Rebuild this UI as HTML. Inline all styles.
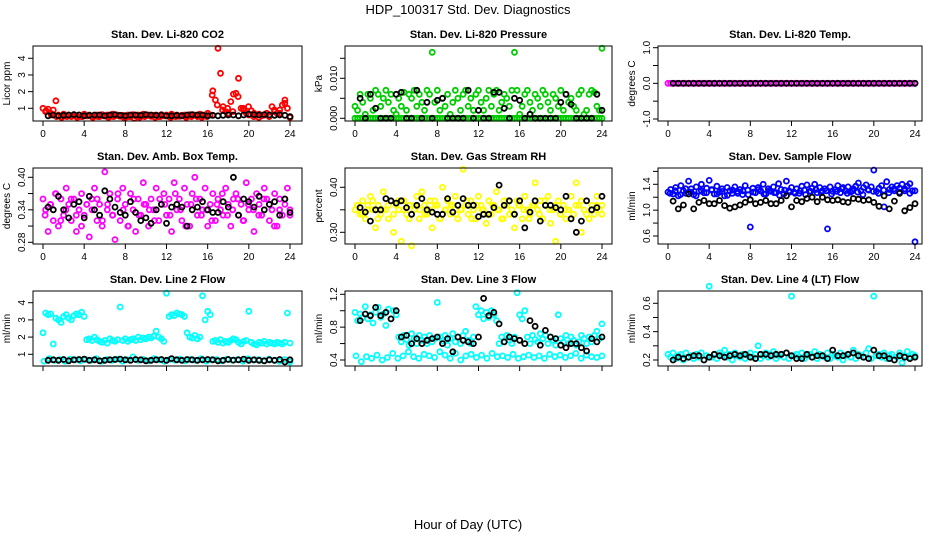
<!DOCTYPE html>
<html><head><meta charset="utf-8"><style>
html,body{margin:0;padding:0;background:#fff}
svg{display:block;font-family:"Liberation Sans",Arial,sans-serif}
</style></head><body>
<svg id="chart" width="936" height="540" viewBox="0 0 936 540" xmlns="http://www.w3.org/2000/svg">
<rect width="936" height="540" fill="#fff"/>
<text x="468" y="14" font-size="13" text-anchor="middle">HDP_100317  Std. Dev. Diagnostics</text>
<text x="468" y="529" font-size="13" text-anchor="middle">Hour of Day (UTC)</text>
</svg>
<script>
// ---- data arrays ----
const co2Red = [1.0,0.8,0.95,0.7,0.9,1.45,0.6,0.5,0.65,0.55,0.6,0.5,0.62,0.55,0.6,0.5,0.65,0.55,0.6,0.52,0.58,0.6,0.5,0.62,0.55,0.6,0.5,0.65,0.55,0.6,0.52,0.58,0.45,0.6,0.5,0.62,0.55,0.6,0.5,0.65,0.55,0.6,0.52,0.58,0.6,0.5,0.62,0.55,0.6,0.5,0.65,0.55,0.6,0.52,0.58,0.6,0.5,0.62,0.55,0.6,0.5,0.65,0.55,0.6,0.7,0.6,2.05,1.5,4.6,3.1,1.1,0.8,0.7,1.4,1.85,1.9,2.8,1.0,0.9,0.7,0.6,0.85,0.7,0.6,0.65,0.55,0.6,0.7,0.6,1.1,0.8,0.7,0.9,1.2,1.5,1.0,0.45];
const co2Red2 = [0.85,0.6,0.5,0.45,0.5,0.55,0.45,0.5,0.55,0.45,0.5,0.55,0.45,0.5,0.55,0.45,0.5,0.4,0.45,0.5,0.55,0.45,0.5,0.55,0.45,0.5,0.55,0.45,0.5,0.55,0.45,0.5,1.8,1.2,0.9,1.0,0.8,1.7,1.0,1.1,0.5,0.45,0.6,0.5,0.9,0.7,1.3,0.5];
const co2Black = [0.55,0.6,0.55,0.58,0.6,0.62,0.6,0.55,0.58,0.6,0.6,0.55,0.6,0.62,0.58,0.55,0.6,0.6,0.58,0.62,0.6,0.58,0.6,0.55,0.55,0.58,0.55,0.6,0.62,0.6,0.6,0.55,0.58,0.55,0.58,0.6,0.6,0.55,0.6,0.65,0.62,0.6,0.62,0.6,0.58,0.6,0.58,0.5];
const presGreen = [0.003,0.002,0.006,0.004,0.001,0.006,0.005,0.002,0.007,0.006,0.003,0.005,0.007,0.004,0.006,0.002,0.001,0.005,0.003,0.0065,0.002,0.006,0.005,0.007,0.003,0.006,0.004,0.002,0.007,0.006,0.0165,0.004,0.007,0.002,0.005,0.003,0.006,0.001,0.004,0.007,0.005,0.002,0.006,0.007,0.003,0.005,0.002,0.006,0.007,0.004,0.002,0.005,0.007,0.003,0.006,0.007,0.002,0.004,0.006,0.005,0.003,0.007,0.0165,0.007,0.001,0.003,0.006,0.007,0.004,0.002,0.006,0.005,0.003,0.007,0.006,0.004,0.002,0.006,0.005,0.003,0.007,0.002,0.006,0.004,0.005,0.003,0.002,0.006,0.007,0.001,0.002,0.006,0.007,0.0065,0.003,0.002,0.0175];
const presGreen2 = [0,0,0,0,0,0,0,0,0,0,0,0,0,0,0,0,0,0,0,0,0,0,0,0,0,0,0,0,0,0,0,0,0,0,0,0,0,0,0,0,0,0,0,0,0,0,0,0,0,0,0,0,0,0,0,0,0,0,0,0,0,0,0,0,0,0,0,0,0,0,0,0,0,0,0,0,0,0,0,0,0,0,0,0,0,0,0,0,0,0,0,0,0,0,0,0,0];
const presBlack = [0.005,0,0.006,0.0025,0,0,0,0.006,0.0065,0,0,0.007,0,0.004,0,0.0045,0.005,0,0,0,0,0.007,0,0.002,0,0,0.0065,0.0065,0.0025,0,0.005,0.0045,0,0.001,0,0,0,0,0,0.004,0.006,0.0035,0,0,0,0,0.006,0.002];
const tempPink = [0,0,0,0,0,0,0,0,0,0,0,0,0,0,0,0,0,0,0,0,0,0,0,0,0,0,0,0,0,0,0,0,0,0,0,0,0,0,0,0,0,0,0,0,0,0,0,0,0,0,0,0,0,0,0,0,0,0,0,0,0,0,0,0,0,0,0,0,0,0,0,0,0,0,0,0,0,0,0,0,0,0,0,0,0,0,0,0,0,0,0,0,0,0,0,0,0];
const tempBlack = [0,0,0,0,0,0,0,0,0,0,0,0,0,0,0,0,0,0,0,0,0,0,0,0,0,0,0,0,0,0,0,0,0,0,0,0,0,0,0,0,0,0,0,0,0,0,0,0];
const ambPink = [0.36,0.34,0.30,0.35,0.32,0.37,0.31,0.36,0.33,0.38,0.35,0.32,0.36,0.30,0.34,0.37,0.33,0.35,0.29,0.36,0.38,0.32,0.35,0.31,0.41,0.34,0.37,0.33,0.285,0.36,0.32,0.38,0.35,0.31,0.37,0.34,0.30,0.36,0.33,0.39,0.35,0.31,0.36,0.34,0.38,0.32,0.35,0.37,0.33,0.36,0.30,0.39,0.34,0.36,0.32,0.38,0.35,0.31,0.37,0.40,0.33,0.36,0.34,0.38,0.31,0.35,0.37,0.32,0.36,0.34,0.33,0.38,0.35,0.31,0.36,0.37,0.33,0.35,0.32,0.39,0.34,0.36,0.30,0.37,0.35,0.33,0.38,0.36,0.32,0.34,0.37,0.31,0.36,0.33,0.35,0.38,0.34];
const ambPink2 = [0.33,0.35,0.37,0.32,0.34,0.36,0.33,0.31,0.35,0.34,0.36,0.32,0.35,0.33,0.37,0.34,0.31,0.36,0.33,0.35,0.34,0.32,0.36,0.35,0.33,0.37,0.34,0.31,0.35,0.36,0.33,0.34,0.32,0.35,0.37,0.33,0.34,0.36,0.32,0.35,0.34,0.33,0.36,0.35,0.31,0.34,0.36,0.33];
const ambBlack = [0.345,0.34,0.365,0.34,0.325,0.35,0.355,0.325,0.365,0.34,0.33,0.375,0.36,0.345,0.335,0.33,0.355,0.335,0.32,0.325,0.315,0.34,0.35,0.315,0.345,0.35,0.345,0.31,0.34,0.345,0.355,0.34,0.335,0.335,0.355,0.345,0.40,0.33,0.36,0.355,0.345,0.365,0.34,0.35,0.355,0.33,0.36,0.335];
const rhYellow = [0.35,0.36,0.34,0.37,0.33,0.36,0.38,0.35,0.31,0.36,0.34,0.39,0.35,0.33,0.37,0.30,0.36,0.35,0.28,0.37,0.34,0.36,0.27,0.35,0.38,0.33,0.39,0.36,0.34,0.35,0.31,0.37,0.36,0.33,0.40,0.35,0.37,0.34,0.36,0.38,0.33,0.35,0.44,0.36,0.34,0.37,0.35,0.33,0.38,0.36,0.35,0.32,0.37,0.34,0.36,0.39,0.35,0.33,0.37,0.36,0.34,0.35,0.31,0.37,0.36,0.33,0.38,0.35,0.34,0.36,0.41,0.35,0.37,0.33,0.36,0.38,0.32,0.35,0.28,0.37,0.34,0.36,0.33,0.35,0.38,0.34,0.41,0.36,0.30,0.35,0.37,0.33,0.36,0.34,0.38,0.35,0.36];
const rhYellow2 = [0.36,0.34,0.35,0.37,0.33,0.35,0.36,0.34,0.37,0.35,0.33,0.36,0.35,0.34,0.37,0.36,0.33,0.35,0.36,0.34,0.35,0.37,0.33,0.36,0.35,0.34,0.36,0.35,0.33,0.37,0.34,0.36,0.35,0.33,0.36,0.34,0.37,0.35,0.36,0.34,0.35,0.33,0.36,0.37,0.34,0.35,0.36,0.34];
const rhBlack = [0.355,0.345,0.325,0.35,0.35,0.375,0.37,0.365,0.37,0.355,0.34,0.36,0.375,0.35,0.345,0.34,0.34,0.375,0.345,0.36,0.375,0.36,0.36,0.335,0.34,0.34,0.355,0.405,0.36,0.37,0.34,0.37,0.31,0.345,0.37,0.325,0.36,0.36,0.355,0.35,0.38,0.33,0.30,0.325,0.37,0.35,0.355,0.38];
const flowBlue = [1.28,1.32,1.25,1.35,1.22,1.38,1.30,1.26,1.45,1.33,1.24,1.36,1.29,1.40,1.27,1.34,1.46,1.31,1.25,1.37,1.28,1.33,1.22,1.35,1.30,1.26,1.36,1.29,1.32,1.24,1.38,1.31,0.74,1.34,1.27,1.35,1.30,1.40,1.25,1.33,1.29,1.36,1.27,1.41,1.32,1.25,1.45,1.30,1.35,1.28,1.33,1.26,1.37,1.31,1.39,1.29,1.34,1.40,1.27,1.35,1.30,1.33,0.71,1.36,1.29,1.32,1.38,1.27,1.35,1.30,1.36,1.28,1.33,1.37,1.42,1.30,1.35,1.39,1.31,1.36,1.62,1.29,1.34,1.38,1.05,1.44,1.32,1.36,1.30,1.38,1.34,1.40,1.33,1.37,1.41,1.30,0.51];
const flowBlue2 = [1.26,1.3,1.24,1.33,1.28,1.22,1.3,1.27,1.32,1.25,1.29,1.23,1.31,1.26,1.3,1.24,1.28,1.32,1.25,1.3,1.27,1.23,1.31,1.28,1.26,1.3,1.24,1.29,1.32,1.27,1.3,1.25,1.29,1.33,1.26,1.3,1.28,1.24,1.32,1.29,1.26,1.31,1.27,1.33,1.28,1.3,1.26,1.3];
const flowBlack = [1.14,1.02,1.08,1.25,1.02,1.12,1.15,1.1,1.1,1.15,1.07,1.03,1.05,1.08,1.12,1.16,1.1,1.12,1.15,1.1,1.1,1.15,1.22,1.05,1.15,1.13,1.18,1.2,1.13,1.2,1.16,1.15,1.16,1.13,1.12,1.18,1.17,1.15,1.16,1.12,1.06,1.22,1.02,1.14,1.26,0.99,1.04,1.1];
const l2Cyan = [2.25,3.4,3.3,3.35,1.6,3.1,3.0,2.85,3.2,3.3,3.1,3.0,3.25,3.35,3.3,3.45,3.2,1.85,1.9,1.8,2.0,1.85,1.75,1.7,1.8,1.65,1.9,1.8,1.75,1.85,3.75,1.8,1.9,1.75,1.85,1.9,1.8,2.0,1.85,1.95,1.9,2.0,1.95,2.05,2.35,2.0,1.9,1.75,4.55,3.2,3.3,3.25,3.4,3.35,3.3,3.2,2.25,2.0,1.95,2.1,1.9,2.0,4.4,3.0,3.5,3.3,1.75,1.8,1.7,1.85,1.65,1.75,1.7,1.8,1.9,1.85,1.7,1.6,1.75,1.8,3.5,1.7,1.6,1.55,1.7,1.65,1.75,1.6,1.7,1.65,1.6,1.7,1.65,1.6,1.7,3.4,1.65];
const l2Cyan2 = [0.6,0.75,0.65,0.7,0.6,0.72,0.68,0.62,0.7,0.65,0.75,0.6,0.7,0.65,0.72,0.6,0.68,0.85,0.65,0.7,0.62,0.75,0.68,0.6,0.7,0.66,0.72,0.62,0.7,0.65,0.75,0.6,0.68,0.7,0.62,0.72,0.65,0.7,0.6,0.74,0.66,0.7,0.62,0.72,0.65,0.6,0.7,0.55];
const l2Black = [0.65,0.68,0.65,0.7,0.62,0.68,0.7,0.72,0.65,0.68,0.62,0.65,0.68,0.7,0.72,0.68,0.65,0.7,0.68,0.62,0.65,0.68,0.7,0.65,0.75,0.68,0.65,0.7,0.68,0.65,0.68,0.7,0.68,0.62,0.65,0.7,0.66,0.68,0.72,0.65,0.68,0.65,0.62,0.68,0.65,0.7,0.55,0.68];
const l3CyanUp = [0.98,0.88,0.96,0.92,1.05,0.9,0.95,0.85,0.98,1.04,0.92,0.96,0.82,1.02,0.9,1.0,0.95,0.68,0.62,0.7,0.65,0.58,0.72,0.66,0.6,0.7,0.64,0.68,0.6,0.7,0.62,0.66,1.1,0.68,0.63,0.7,0.58,0.66,0.72,0.62,0.68,0.6,0.7,0.75,0.64,0.6,0.68,1.05,0.95,1.0,0.9,0.98,0.92,1.0,0.95,0.88,0.6,0.68,0.62,0.7,0.64,0.6,0.68,1.22,0.95,0.9,1.0,0.68,0.6,0.7,0.65,0.62,0.72,0.66,0.7,0.6,0.68,0.64,0.58,0.95,0.66,0.62,0.7,0.6,0.68,0.64,0.58,0.62,0.7,0.66,0.6,0.68,0.62,0.7,0.75,0.66,0.84];
const l3CyanLo = [0.45,0.38,0.44,0.42,0.46,0.4,0.43,0.48,0.42,0.45,0.5,0.44,0.42,0.47,0.45,0.43,0.5,0.46,0.42,0.48,0.4,0.45,0.47,0.43,0.46,0.42,0.48,0.44,0.45,0.43,0.47,0.42,0.44,0.46,0.43,0.45,0.42,0.47,0.44,0.46,0.43,0.45,0.48,0.42,0.46,0.44,0.43,0.45];
const l3Black = [0.88,0.96,0.94,1.04,0.94,0.98,0.9,1.0,0.68,0.7,0.6,0.66,0.6,0.64,0.66,0.68,0.6,0.66,0.5,0.68,0.64,0.62,0.6,0.68,1.15,0.94,0.98,0.84,0.62,0.68,0.66,0.64,0.6,0.88,0.81,0.58,0.76,0.68,0.66,0.58,0.55,0.6,0.6,0.55,0.51,0.66,0.62,0.68];
const l4Cyan = [0.24,0.22,0.25,0.21,0.23,0.24,0.2,0.25,0.22,0.23,0.21,0.24,0.22,0.25,0.2,0.23,0.72,0.22,0.24,0.21,0.25,0.23,0.27,0.22,0.24,0.2,0.25,0.23,0.22,0.24,0.21,0.23,0.25,0.22,0.24,0.3,0.21,0.23,0.25,0.22,0.24,0.26,0.21,0.23,0.24,0.22,0.25,0.21,0.65,0.23,0.24,0.22,0.25,0.21,0.23,0.24,0.22,0.26,0.21,0.24,0.23,0.22,0.25,0.21,0.24,0.23,0.22,0.25,0.2,0.23,0.24,0.22,0.27,0.21,0.24,0.23,0.22,0.25,0.28,0.21,0.65,0.23,0.24,0.22,0.25,0.21,0.23,0.24,0.2,0.22,0.25,0.18,0.23,0.26,0.22,0.24,0.23];
const l4Black = [0.2,0.22,0.21,0.22,0.23,0.23,0.2,0.22,0.24,0.23,0.22,0.23,0.24,0.23,0.24,0.22,0.21,0.24,0.24,0.23,0.24,0.24,0.25,0.23,0.21,0.21,0.24,0.22,0.23,0.23,0.21,0.27,0.23,0.23,0.24,0.25,0.23,0.22,0.21,0.27,0.23,0.23,0.21,0.2,0.23,0.22,0.21,0.22];
const xTicks = [0,4,8,12,16,20,24];

const panels = [
 {name:'co2',title:'Stan. Dev. Li-820 CO2',ylab:'Licor ppm',col:0,row:0,y1:4,p1:58.3,y2:1,p2:108.3,ticks:[1,2,3,4],labels:['1','2','3','4'],
  series:[[co2Red,'#ff0000',0],[co2Red2,'#ff0000',0.3],[co2Black,'#000',0.5]]},
 {name:'pressure',title:'Stan. Dev. Li-820 Pressure',ylab:'kPa',col:1,row:0,y1:0.01,p1:78.3,y2:0,p2:118.3,ticks:[0,0.005,0.01,0.015],labels:['0.000','','0.010',''],
  series:[[presGreen2,'#00cd00',0],[presGreen,'#00cd00',0],[presBlack,'#000',0.5]]},
 {name:'licor-temp',title:'Stan. Dev. Li-820 Temp.',ylab:'degrees C',col:2,row:0,y1:1,p1:47.7,y2:-1,p2:119,ticks:[-1,-0.5,0,0.5,1],labels:['-1.0','','0.0','','1.0'],
  series:[[tempPink,'#ff00ff',0],[tempBlack,'#000',0.5]]},
 {name:'amb-box-temp',title:'Stan. Dev. Amb. Box Temp.',ylab:'degrees C',col:0,row:1,y1:0.40,p1:177.3,y2:0.28,p2:242.3,ticks:[0.28,0.31,0.34,0.37,0.40],labels:['0.28','','0.34','','0.40'],
  series:[[ambPink,'#ff00ff',0],[ambPink2,'#ff00ff',0.2],[ambBlack,'#000',0.5]]},
 {name:'gas-stream-rh',title:'Stan. Dev. Gas Stream RH',ylab:'percent',col:1,row:1,y1:0.40,p1:187.3,y2:0.30,p2:232.3,ticks:[0.30,0.35,0.40],labels:['0.30','','0.40'],
  series:[[rhYellow,'#ffff00',0],[rhYellow2,'#ffff00',0.2],[rhBlack,'#000',0.5]]},
 {name:'sample-flow',title:'Stan. Dev. Sample Flow',ylab:'ml/min',col:2,row:1,y1:1.4,p1:184.3,y2:0.6,p2:236,ticks:[0.6,0.8,1.0,1.2,1.4,1.6],labels:['0.6','','1.0','','1.4',''],
  series:[[flowBlue,'#0000ff',0],[flowBlue2,'#0000ff',0.2],[flowBlack,'#000',0.5]]},
 {name:'line2-flow',title:'Stan. Dev. Line 2 Flow',ylab:'ml/min',col:0,row:2,y1:4,p1:302.7,y2:1,p2:354.3,ticks:[1,2,3,4],labels:['1','2','3','4'],
  series:[[l2Cyan,'#00ffff',0],[l2Cyan2,'#00ffff',0.1],[l2Black,'#000',0.5]]},
 {name:'line3-flow',title:'Stan. Dev. Line 3 Flow',ylab:'ml/min',col:1,row:2,y1:1.2,p1:294.3,y2:0.4,p2:360,ticks:[0.4,0.6,0.8,1.0,1.2],labels:['0.4','','0.8','','1.2'],
  series:[[l3CyanUp,'#00ffff',0],[l3CyanLo,'#00ffff',0.1],[l3Black,'#000',0.5]]},
 {name:'line4-flow',title:'Stan. Dev. Line 4 (LT) Flow',ylab:'ml/min',col:2,row:2,y1:0.6,p1:303.3,y2:0.2,p2:360,ticks:[0.2,0.3,0.4,0.5,0.6,0.7],labels:['0.2','','0.4','','0.6',''],
  series:[[l4Cyan,'#00ffff',0],[l4Black,'#000',0.5]]}
];

const NS='http://www.w3.org/2000/svg';
const svg=document.getElementById('chart');
const colX0=[43,355,668], colBoxR=[302,612,922];
const rowBox=[[46,121],[168,244],[291,366]];
function el(tag,attrs,parent){const e=document.createElementNS(NS,tag);for(const k in attrs)e.setAttribute(k,attrs[k]);(parent||svg).appendChild(e);return e;}

panels.forEach(p=>{
  const g=el('g',{});
  
  
  const x0=colX0[p.col], L=x0-10, R=colBoxR[p.col];
  const T=rowBox[p.row][0], B=rowBox[p.row][1];
  const xs=h=>x0+h*247/24;
  const ys=v=>p.p2+(v-p.y2)*(p.p1-p.p2)/(p.y1-p.y2);
  const t=el('text',{x:(L+R)/2,y:T-8,'font-size':11,'font-weight':'bold','text-anchor':'middle'},g);
  t.textContent=p.title;
  
  
  const yl=el('text',{x:0,y:0,'font-size':10,'text-anchor':'middle',transform:`translate(${L-23},${(T+B)/2}) rotate(-90)`},g);
  yl.textContent=p.ylab;
  
  
  p.series.forEach((s,si)=>{
    const vals=s[0], n=vals.length, start=s[2];
    const sg=el('g',{fill:'none',stroke:s[1],'stroke-width':1.8},g);
    
    
    vals.forEach((v,i)=>{
      const h=start+i*(24-start)/(n-1);
      const c=el('circle',{cx:xs(h).toFixed(1),cy:ys(v).toFixed(1),r:2.5},sg);
      
      
    });
  });
  const box=el('rect',{x:L,y:T,width:R-L,height:B-T,fill:'none',stroke:'#000','stroke-width':1},g);
  
  
  xTicks.forEach(h=>{
    el('line',{x1:xs(h),x2:xs(h),y1:B,y2:B+5,stroke:'#000'},g);
    if(p.row<2){
      const tl=el('text',{x:xs(h),y:B+16,'font-size':10,'text-anchor':'middle'},g);
      tl.textContent=h;
      
      
    }
  });
  el('line',{x1:xs(0),x2:xs(24),y1:B,y2:B,stroke:'#000'},g);
  p.ticks.forEach((v,i)=>{
    const y=ys(v); if(y<T-0.5||y>B+0.5) return;
    el('line',{x1:L-5,x2:L,y1:y,y2:y,stroke:'#000'},g);
    if(p.labels[i]){
      const tl=el('text',{x:0,y:0,'font-size':10,'text-anchor':'middle',transform:`translate(${L-8},${y}) rotate(-90)`},g);
      tl.textContent=p.labels[i];
      
      
    }
  });
  const yt=p.ticks.map(ys).filter(y=>y>=T-0.5&&y<=B+0.5);
  el('line',{x1:L,x2:L,y1:Math.min(...yt),y2:Math.max(...yt),stroke:'#000'},g);
});
</script>
</body></html>
